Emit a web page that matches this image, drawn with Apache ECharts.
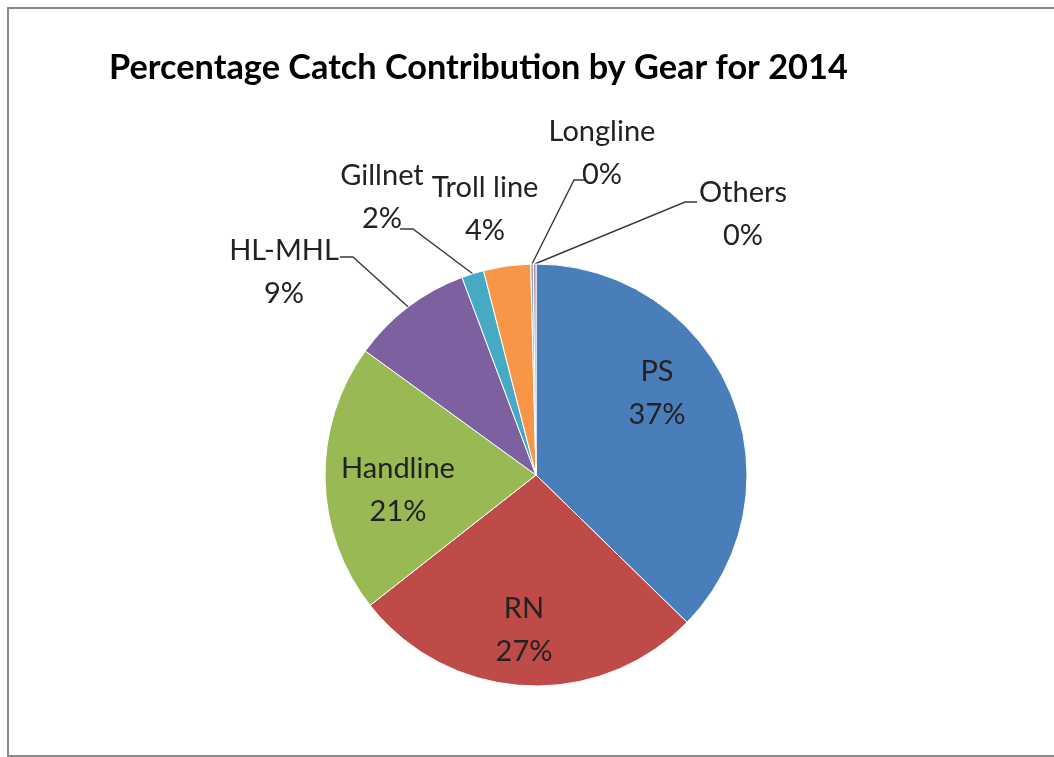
<!DOCTYPE html>
<html>
<head>
<meta charset="utf-8">
<script src="https://cdn.jsdelivr.net/npm/echarts@6/dist/echarts.min.js"></script>
<style>
  html, body { margin: 0; padding: 0; background: #ffffff; }
  #chart { width: 1054px; height: 757px; }
</style>
</head>
<body>
<div id="chart"></div>
<script>
// ---- data ----
var titleText = 'Percentage Catch Contribution by Gear for 2014';
var categories = ['PS', 'RN', 'Handline', 'HL-MHL', 'Gillnet', 'Troll line', 'Longline', 'Others'];
var shares = [37.3, 27.1, 20.6, 9.3, 1.7, 3.6, 0.2, 0.2];
var sliceColors = ['#4A7EBB', '#BE4B48', '#98B954', '#7D60A0', '#46AAC5', '#F79646', '#8FA3BF', '#B08A88'];

// ---- layout (label placement, not data) ----
var labelCenters = {
  'PS': [657, 393],
  'RN': [524, 630],
  'Handline': [398, 490],
  'HL-MHL': [284, 272],
  'Gillnet': [382, 197],
  'Troll line': [485, 209],
  'Longline': [602, 153],
  'Others': [743, 214]
};
// leader line: [label end point, elbow point]; the slice end comes from the pie layout
var leaderEnds = {
  'HL-MHL': [[340, 257], [353, 257]],
  'Gillnet': [[400, 229], [413, 229]],
  'Longline': [[586, 180], [574, 180]],
  'Others': [[697, 202], [685, 202]]
};
var noLine = { 'PS': true, 'RN': true, 'Handline': true, 'Troll line': true };

var FONT = 'Lato, "Open Sans", "Liberation Sans", sans-serif';

var chart = echarts.init(document.getElementById('chart'), null, { renderer: 'canvas' });

var pieData = categories.map(function (name, i) {
  return {
    name: name,
    value: shares[i],
    itemStyle: { color: sliceColors[i] },
    labelLine: { show: !noLine[name] }
  };
});

chart.setOption({
  backgroundColor: '#ffffff',
  animation: false,
  graphic: [{
    type: 'rect',
    shape: { x: 8, y: 8, width: 1100, height: 748 },
    style: { fill: 'none', stroke: '#8a8a8a', lineWidth: 2 },
    silent: true
  }],
  title: {
    text: titleText,
    left: 104,
    top: 46,
    textStyle: { fontFamily: FONT, fontWeight: 'bold', fontSize: 34.3, color: '#000000' }
  },
  series: [{
    type: 'pie',
    center: [536, 475],
    radius: 211,
    startAngle: 90,
    clockwise: true,
    avoidLabelOverlap: false,
    data: pieData,
    itemStyle: { borderColor: '#ffffff', borderWidth: 1 },
    label: {
      show: true,
      position: 'outside',
      formatter: function (p) { return p.name + '\n' + Math.round(p.value) + '%'; },
      fontFamily: FONT,
      fontSize: 29,
      lineHeight: 43,
      color: '#222222',
      align: 'center'
    },
    labelLine: {
      show: true,
      length: 10,
      length2: 12,
      minTurnAngle: 0,
      smooth: false,
      lineStyle: { color: '#3a3a3a', width: 1.4 }
    },
    labelLayout: function (params) {
      var name = categories[params.dataIndex];
      var c = labelCenters[name];
      var out = { x: c[0], y: c[1], align: 'center', verticalAlign: 'middle' };
      var ends = leaderEnds[name];
      if (ends && params.labelLinePoints) {
        var anchor = params.labelLinePoints[0];
        out.labelLinePoints = [[anchor[0], anchor[1]], ends[1], ends[0]];
      }
      return out;
    }
  }]
});
</script>
</body>
</html>
